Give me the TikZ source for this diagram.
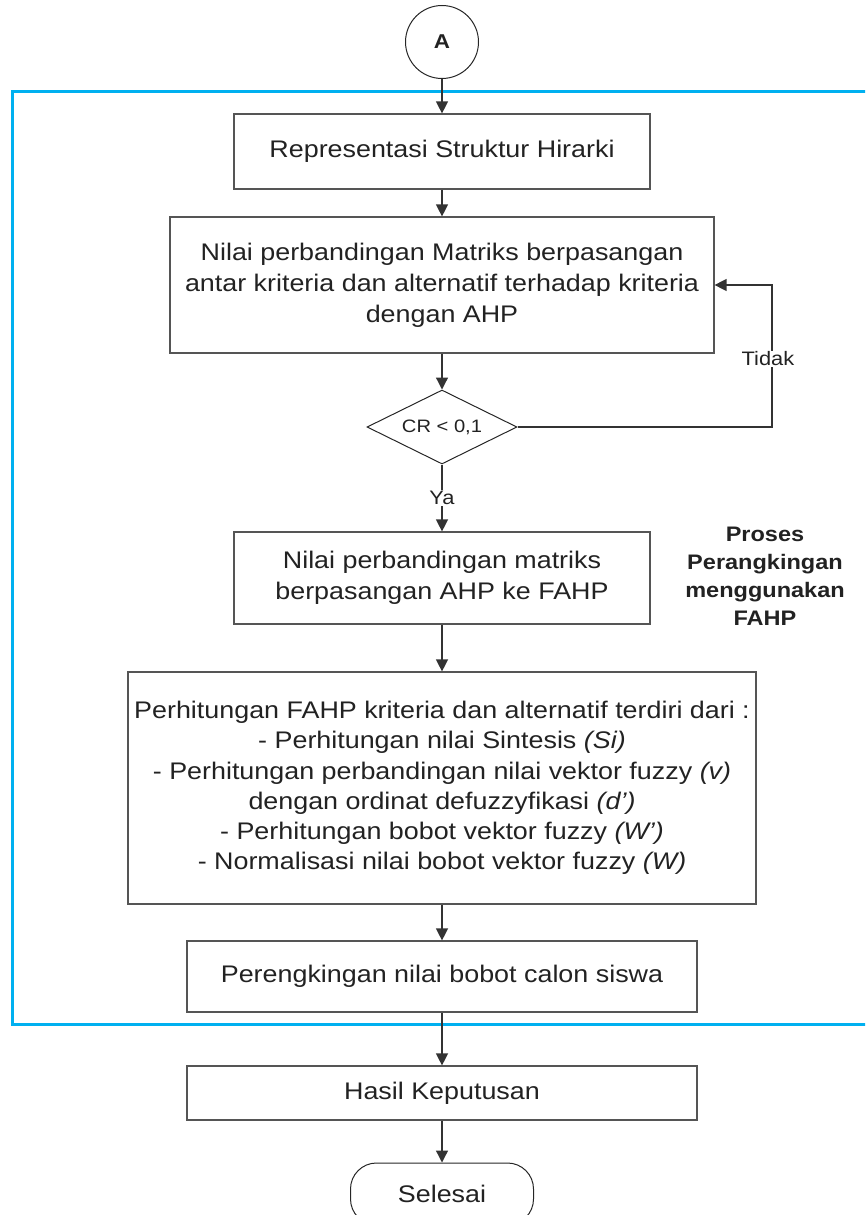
\documentclass[tikz,border=0pt]{standalone}
\usepackage{fontspec}
\setmainfont{Liberation Sans}[FakeStretch=1.12]
\usetikzlibrary{shapes.geometric,arrows.meta}
\definecolor{frameblue}{HTML}{00B0F0}
\definecolor{ink}{HTML}{222222}
\definecolor{edge}{HTML}{555555}

\begin{document}
\begin{tikzpicture}[x=1pt,y=-1pt,
  box/.style={draw=edge, line width=1.2pt, rectangle, align=center, text=ink,
    inner sep=0pt, font=\fontsize{24}{31}\selectfont},
  outline/.style={draw=black!85, line width=1pt, text=ink, inner sep=0pt},
  flow/.style={draw=black!80, line width=1.3pt, -{Triangle[length=12pt,width=12pt]}},
  lbl/.style={fill=white, text=ink, inner sep=1pt, font=\fontsize{19.5}{22}\selectfont}]

\useasboundingbox (0,0) rectangle (865,1215);
\clip (0,0) rectangle (865,1215);

% frame around the FAHP ranking stage
\draw[frameblue, line width=3pt] (872,91) -| (12,1024) -- (872,1024);

% nodes
\node[outline, circle, minimum size=73pt, font=\bfseries\fontsize{20}{24}\selectfont] (a) at (442,42) {A};
\node[box, minimum width=416pt, minimum height=75pt] (rep) at (442,151.5) {Representasi Struktur Hirarki};
\node[box, minimum width=544pt, minimum height=136pt] (ahp) at (442,285)
  {Nilai perbandingan Matriks berpasangan\\antar kriteria dan alternatif terhadap kriteria\\dengan AHP};
\node[outline, diamond, shape aspect=2, minimum width=150pt, minimum height=74pt,
  font=\fontsize{18}{20}\selectfont] (cr) at (442,427) {CR < 0,1};
\node[box, minimum width=416pt, minimum height=92pt] (fz) at (442,578)
  {Nilai perbandingan matriks\\berpasangan AHP ke FAHP};
\node[box, minimum width=628pt, minimum height=232pt, font=\fontsize{24}{30.2}\selectfont] (calc) at (442,788)
  {Perhitungan FAHP kriteria dan alternatif terdiri dari :\\
   - Perhitungan nilai Sintesis \textit{(Si)}\\
   - Perhitungan perbandingan nilai vektor fuzzy \textit{(v)}\\
   dengan ordinat defuzzyfikasi \textit{(d')}\\
   - Perhitungan bobot vektor fuzzy \textit{(W')}\\
   - Normalisasi nilai bobot vektor fuzzy \textit{(W)}};
\node[box, minimum width=510pt, minimum height=71pt] (rank) at (442,976.5) {Perengkingan nilai bobot calon siswa};
\node[box, minimum width=510pt, minimum height=54pt] (hasil) at (442,1093) {Hasil Keputusan};
\node[outline, rectangle, rounded corners=26pt, minimum width=183pt, minimum height=62pt,
  font=\fontsize{24}{28}\selectfont] (end) at (442,1194) {Selesai};

\node[align=center, text=ink, font=\bfseries\fontsize{21}{28}\selectfont] (proc) at (765,576)
  {Proses\\Perangkingan\\menggunakan\\FAHP};

% connectors
\coordinate (loop) at (772,427);
\draw[flow] (a) -- (rep);
\draw[flow] (rep) -- (ahp);
\draw[flow] (ahp) -- (cr);
\draw[flow] (cr) -- node[lbl] {Ya} (fz);
\draw[flow] (cr.east) -- (loop) -- node[lbl, xshift=-4pt, yshift=-3pt] {Tidak} (loop |- ahp.east) -- (ahp.east);
\draw[flow] (fz) -- (calc);
\draw[flow] (calc) -- (rank);
\draw[flow] (rank) -- (hasil);
\draw[flow] (hasil) -- (end);
\end{tikzpicture}
\end{document}
